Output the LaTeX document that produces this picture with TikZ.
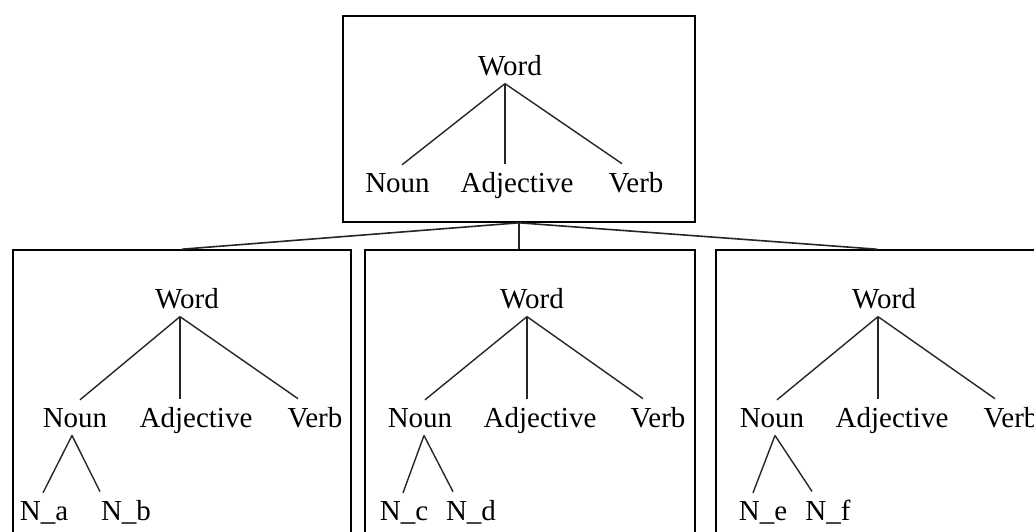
\documentclass[tikz,border=0pt]{standalone}
\usepackage{fontspec}
\setmainfont{Liberation Serif}
\begin{document}
\begin{tikzpicture}[x=1pt,y=-1pt,
  lbl/.style={anchor=base,inner sep=8pt,font=\fontsize{29}{34}\selectfont},
  frame/.style={draw=black,line width=1.6pt,rectangle,inner sep=0pt},
  edge/.style={draw=black!85,line width=1.4pt},
  link/.style={draw=black!85,line width=1.6pt}]
\clip (0,0) rectangle (1034,531);
\fill[white] (0,0) rectangle (1034,531);
% boxes
\node[frame,minimum width=352pt,minimum height=206pt] (T) at (519,119) {};
\node[frame,minimum width=338pt,minimum height=290pt] (L) at (182,395) {};
\node[frame,minimum width=330pt,minimum height=290pt] (M) at (530,395) {};
\node[frame,minimum width=322pt,minimum height=290pt] (R) at (877,395) {};
% connectors between boxes
\draw[link] (T.south) -- (L.north);
\draw[link] (T.south) -- (T.south |- M.north);
\draw[link] (T.south) -- (R.north);
% top tree
\node[lbl] (tw) at (510,75) {Word};
\node[lbl] (tn) at (397.5,192) {Noun};
\node[lbl] (ta) at (517,192) {Adjective};
\node[lbl] (tv) at (636,192) {Verb};
\draw[edge] ([xshift=-5pt]tw.south) -- ([xshift=4.5pt]tn.north);
\draw[edge] ([xshift=-5pt]tw.south) -- ([xshift=-12pt]ta.north);
\draw[edge] ([xshift=-5pt]tw.south) -- ([xshift=-14pt]tv.north);
% left tree
\node[lbl] (lw) at (187,308) {Word};
\node[lbl] (ln) at (75,427) {Noun};
\node[lbl] (la) at (196,427) {Adjective};
\node[lbl] (lv) at (315,427) {Verb};
\node[lbl] (lna) at (44,520) {N\_a};
\node[lbl] (lnb) at (126,520) {N\_b};
\draw[edge] ([xshift=-7pt]lw.south) -- ([xshift=5pt]ln.north);
\draw[edge] ([xshift=-7pt]lw.south) -- ([xshift=-16pt]la.north);
\draw[edge] ([xshift=-7pt]lw.south) -- ([xshift=-17pt]lv.north);
\draw[edge] ([xshift=-3pt]ln.south) -- ([xshift=-1pt]lna.north);
\draw[edge] ([xshift=-3pt]ln.south) -- ([xshift=-26pt]lnb.north);
% middle tree
\node[lbl] (mw) at (532,308) {Word};
\node[lbl] (mn) at (420,427) {Noun};
\node[lbl] (ma) at (540,427) {Adjective};
\node[lbl] (mv) at (658,427) {Verb};
\node[lbl] (mnc) at (404,520) {N\_c};
\node[lbl] (mnd) at (471,520) {N\_d};
\draw[edge] ([xshift=-5pt]mw.south) -- ([xshift=5pt]mn.north);
\draw[edge] ([xshift=-5pt]mw.south) -- ([xshift=-13pt]ma.north);
\draw[edge] ([xshift=-5pt]mw.south) -- ([xshift=-15pt]mv.north);
\draw[edge] ([xshift=4pt]mn.south) -- ([xshift=-1pt]mnc.north);
\draw[edge] ([xshift=4pt]mn.south) -- ([xshift=-18pt]mnd.north);
% right tree
\node[lbl] (rw) at (884,308) {Word};
\node[lbl] (rn) at (772,427) {Noun};
\node[lbl] (ra) at (892,427) {Adjective};
\node[lbl] (rv) at (1011,427) {Verb};
\node[lbl] (rne) at (763,520) {N\_e};
\node[lbl] (rnf) at (828,520) {N\_f};
\draw[edge] ([xshift=-6pt]rw.south) -- ([xshift=5pt]rn.north);
\draw[edge] ([xshift=-6pt]rw.south) -- ([xshift=-14pt]ra.north);
\draw[edge] ([xshift=-6pt]rw.south) -- ([xshift=-16pt]rv.north);
\draw[edge] ([xshift=3pt]rn.south) -- ([xshift=-10pt]rne.north);
\draw[edge] ([xshift=3pt]rn.south) -- ([xshift=-16pt]rnf.north);
\end{tikzpicture}
\end{document}
